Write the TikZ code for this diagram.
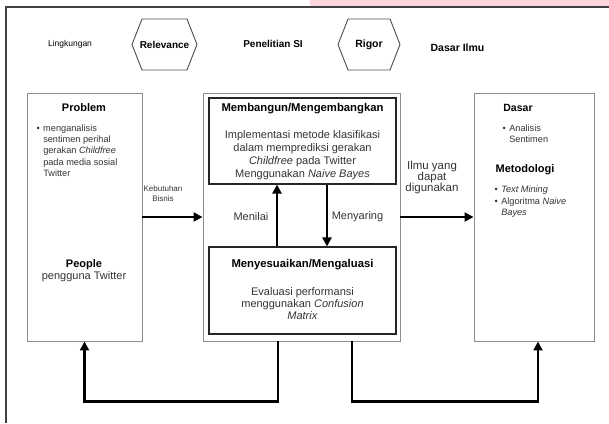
\documentclass[tikz,border=0pt]{standalone}
\usepackage{fontspec}
\setmainfont{Liberation Sans}
\usetikzlibrary{arrows.meta}
\definecolor{merahmuda}{RGB}{255,214,220}

\begin{document}
\begin{tikzpicture}
  [x=1pt,y=-1pt,
   kotak/.style={draw=black!45,line width=0.9pt,inner sep=0pt},
   isi/.style={draw=black!85,line width=1.1pt,inner sep=0pt},
   judul/.style={font=\fontsize{10.5}{12}\selectfont\bfseries},
   judulbesar/.style={font=\fontsize{11.3}{13}\selectfont\bfseries},
   kecil/.style={font=\fontsize{9.2}{11.2}\selectfont,text=black!80},
   teks/.style={font=\fontsize{11}{13}\selectfont,text=black!80,align=center},
   panah/.style={line width=2.5pt,-{Triangle[length=9pt,width=9pt]}}]
  \useasboundingbox (0,0) rectangle (609,423);
  % bingkai
  \fill[merahmuda] (310,0) rectangle (609,6);
  \draw[black!75,line width=1.2pt] (6,423) -- (6,7) -- (609,7);
  % baris atas
  \node[kecil,font=\fontsize{8.5}{10}\selectfont,text=black] (ling) at (70,44) {Lingkungan};
  \node[judul,font=\fontsize{10}{12}\selectfont\bfseries] (rel) at (164.5,44.5) {Relevance};
  \node[judul,font=\fontsize{10}{12}\selectfont\bfseries] (pen) at (273,44) {Penelitian SI};
  \node[judul] (rig) at (369,44.5) {Rigor};
  \node[judul] (dil) at (457.5,48) {Dasar Ilmu};
  \foreach \h/\w in {rel/32.5,rig/31}
    \draw[black!70,line width=0.9pt] (\h.center) ++(-\w,0) -- ++(10,-25.5) -- ++(2*\w-20,0)
      -- ++(10,25.5) -- ++(-10,25.5) -- ++(-2*\w+20,0) -- cycle;
  % kotak
  \node[kotak,minimum width=115pt,minimum height=248pt] (env) at (84.5,217) {};
  \node[kotak,minimum width=197pt,minimum height=248pt] (si) at (301.5,217) {};
  \node[isi,minimum width=187pt,minimum height=86pt] (bangun) at (302.5,141) {};
  \node[isi,minimum width=187pt,minimum height=87pt] (sesuai) at (302.5,290.5) {};
  \node[kotak,minimum width=120pt,minimum height=248pt] (ilmu) at (534,217) {};
  % lingkungan
  \node[judul,font=\fontsize{11}{12}\selectfont\bfseries] (prob) at (84,108) {Problem};
  \node[kecil,anchor=base west] (probisi) at (33,131.5) {\begin{tabular}[t]{@{}l@{\hspace{3.5pt}}l@{}}
    \textbullet & menganalisis\\ & sentimen perihal\\ & gerakan \textit{Childfree}\\
    & pada media sosial\\ & Twitter\end{tabular}};
  \node[judul,font=\fontsize{11}{12}\selectfont\bfseries] (ppl) at (84,265) {People};
  \node[teks] (pplisi) at (84,277) {pengguna Twitter};
  % penelitian
  \node[judulbesar] (bgjudul) at (302.5,109) {Membangun/Mengembangkan};
  \node[teks] (bgisi) at (302.5,155) {Implementasi metode klasifikasi\\dalam memprediksi gerakan\\
    \textit{Childfree} pada Twitter\\Menggunakan \textit{Naive Bayes}};
  \node[judulbesar] (ssjudul) at (302.5,265) {Menyesuaikan/Mengaluasi};
  \node[teks,font=\fontsize{11}{12}\selectfont] (ssisi) at (302.5,303.5) {Evaluasi performansi\\
    menggunakan \textit{Confusion}\\\textit{Matrix}};
  % dasar ilmu
  \node[judul] (dasar) at (518,108) {Dasar};
  \node[kecil,anchor=base west] (dasarisi) at (499,131) {\begin{tabular}[t]{@{}l@{\hspace{3.5pt}}l@{}}
    \textbullet & Analisis\\ & Sentimen\end{tabular}};
  \node[judul,font=\fontsize{11}{12}\selectfont\bfseries] (meto) at (525,170) {Metodologi};
  \node[kecil,font=\fontsize{9.2}{11.5}\selectfont,anchor=base west] (metoisi) at (491,192.5)
    {\begin{tabular}[t]{@{}l@{\hspace{3.5pt}}l@{}}
    \textbullet & \textit{Text Mining}\\ \textbullet & Algoritma \textit{Naive}\\ & \textit{Bayes}\end{tabular}};
  % panah
  \foreach \from/\to in {env/si,si/ilmu}
    \draw[panah] (\from.east) -- (\to.west);
  \draw[panah] ([xshift=-25.5pt]sesuai.north) -- ([xshift=-25.5pt]bangun.south);
  \draw[panah] ([xshift=24.5pt]bangun.south) -- ([xshift=24.5pt]sesuai.north);
  \draw[panah] ([xshift=-23.5pt]si.south) -- ++(0,60) -| (env.south);
  \draw[panah] ([xshift=50.5pt]si.south) -- ++(0,60) -| ([xshift=4pt]ilmu.south);
  \node[kecil,font=\fontsize{8}{10}\selectfont,align=center] (lbisnis) at (163,194) {Kebutuhan\\Bisnis};
  \node[teks,font=\fontsize{11.5}{11}\selectfont] (lilmu) at (432,178) {Ilmu yang\\dapat\\digunakan};
  \node[teks] (lnilai) at (251,217) {Menilai};
  \node[teks] (lsaring) at (357.5,217) {Menyaring};
\end{tikzpicture}
\end{document}
